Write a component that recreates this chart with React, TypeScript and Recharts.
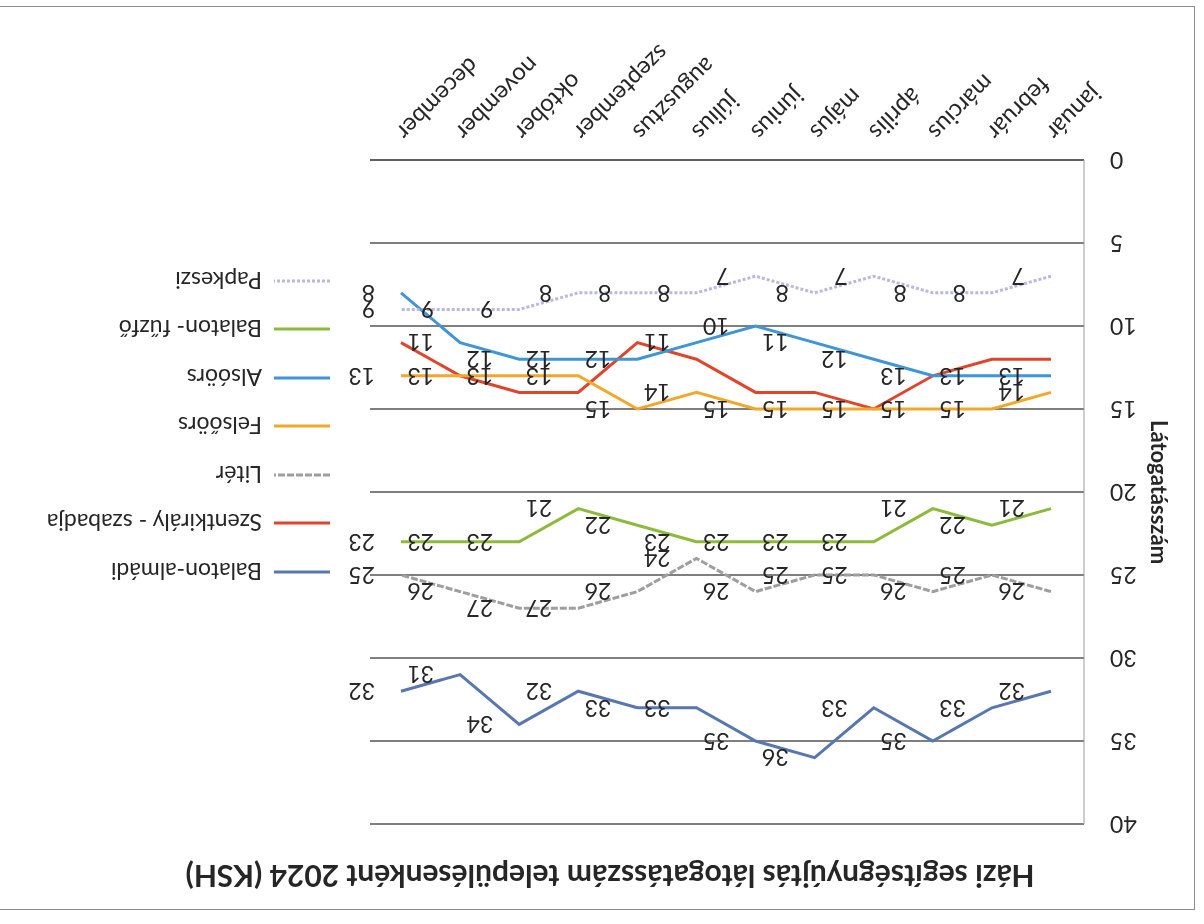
import { CartesianGrid, LabelList, Legend, Line, LineChart, XAxis, YAxis } from "recharts";

const months = ["január", "február", "március", "április", "május", "június", "július", "augusztus", "szeptember", "október", "november", "december"];

const balatonAlmadi = [32, 33, 35, 33, 36, 35, 33, 33, 32, 34, 31, 32];
const szentkiraly = [12, 12, 13, 15, 14, 14, 12, 11, 14, 14, 13, 11];
const liter = [26, 25, 26, 25, 25, 26, 24, 26, 27, 27, 26, 25];
const felsoors = [14, 15, 15, 15, 15, 15, 14, 15, 13, 13, 13, 13];
const alsoors = [13, 13, 13, 12, 11, 10, 11, 12, 12, 12, 11, 8];
const balatonFuzfo = [21, 22, 21, 23, 23, 23, 23, 22, 21, 23, 23, 23];
const papkeszi = [7, 8, 8, 7, 8, 7, 8, 8, 8, 9, 9, 9];

const yTicks = [0, 5, 10, 15, 20, 25, 30, 35, 40];

const TITLE = "Házi segítségnyújtás látogatásszám településenként 2024 (KSH)";
const FONT = "Lato, 'Open Sans', sans-serif";
const INK = "#262626";

// legend order (top to bottom)
const series = [
  { key: "almadi", name: "Balaton-almádi", color: "#5876B0", dash: undefined, labels: true },
  { key: "szentkiraly", name: "Szentkirály - szabadja", color: "#E0452B", dash: undefined, labels: false },
  { key: "liter", name: "Litér", color: "#9E9E9E", dash: "7 2", labels: true },
  { key: "felsoors", name: "Felsőörs", color: "#F2A72B", dash: undefined, labels: true },
  { key: "alsoors", name: "Alsóörs", color: "#3F95D6", dash: undefined, labels: true },
  { key: "fuzfo", name: "Balaton- fűzfő", color: "#8DBA3A", dash: undefined, labels: true },
  { key: "papkeszi", name: "Papkeszi", color: "#B9B9DD", dash: "3 2", labels: true },
];

const data = months.map((m, i) => ({
  month: m,
  almadi: balatonAlmadi[i],
  szentkiraly: szentkiraly[i],
  liter: liter[i],
  felsoors: felsoors[i],
  alsoors: alsoors[i],
  fuzfo: balatonFuzfo[i],
  papkeszi: papkeszi[i],
}));

function MonthTick({ x, y, payload }: any) {
  const tx = x + 6;
  const ty = y + 30;
  return (
    <text x={tx} y={ty} transform={`rotate(-45 ${tx} ${ty})`} textAnchor="end" fontSize={24} fontFamily={FONT} fill={INK}>
      {payload.value}
    </text>
  );
}

function AxisTitle(props: any) {
  const vb = props.viewBox || {};
  const cx = 44;
  const cy = vb.y != null ? vb.y + vb.height / 2 : 432;
  return (
    <text x={cx} y={cy} transform={`rotate(-90 ${cx} ${cy})`} textAnchor="middle" dominantBaseline="central" fontSize={22} fontWeight={700} fontFamily={FONT} fill={INK}>
      Látogatásszám
    </text>
  );
}

function LegendBox() {
  return (
    <div style={{ display: "flex", flexDirection: "column", fontFamily: FONT }}>
      {series.map((s) => (
        <div key={s.key} style={{ display: "flex", alignItems: "center", height: 48.5 }}>
          <svg width={56} height={6}>
            <line x1={0} y1={3} x2={56} y2={3} stroke={s.color} strokeWidth={3} strokeDasharray={s.dash} />
          </svg>
          <span style={{ marginLeft: 12, fontSize: 23, color: INK, whiteSpace: "nowrap" }}>{s.name}</span>
        </div>
      ))}
    </div>
  );
}

export default function App() {
  return (
    <div style={{ position: "fixed", left: 0, top: 0, width: 1204, height: 924, background: "#fff", transform: "rotate(180deg)", fontFamily: FONT, overflow: "hidden" }}>
      <div style={{ position: "absolute", left: 9, top: 14, width: 1210, height: 902, border: "1px solid #8a8a8a" }} />
      <div style={{ position: "absolute", left: 0, top: 0 }}>
        <LineChart width={1204} height={924} data={data} margin={{ top: 100, right: 370, bottom: 0, left: 0 }}>
          <CartesianGrid vertical={false} stroke="#555" strokeWidth={1.5} />
          <XAxis
            dataKey="month"
            height={160}
            interval={0}
            padding={{ left: 33, right: 31 }}
            tickLine={false}
            tickSize={0}
            tickMargin={0}
            axisLine={{ stroke: "#555", strokeWidth: 1.5 }}
            tick={<MonthTick />}
          />
          <YAxis
            width={120}
            domain={[0, 40]}
            ticks={yTicks}
            tickLine={false}
            tickSize={0}
            tickMargin={26}
            axisLine={{ stroke: "#9a9a9a" }}
            tick={{ fontSize: 23, fill: INK, fontFamily: FONT }}
            label={AxisTitle}
          />
          <Legend layout="vertical" align="center" verticalAlign="middle" content={<LegendBox />} wrapperStyle={{ left: 874, top: 328, width: 330 }} />
          {series.map((s) => (
            <Line key={s.key} type="linear" dataKey={s.key} name={s.name} stroke={s.color} strokeWidth={3} strokeDasharray={s.dash} dot={false} isAnimationActive={false}>
              {s.labels && <LabelList dataKey={s.key} position="right" offset={26} fontSize={23} fill={INK} fontFamily={FONT} />}
            </Line>
          ))}
        </LineChart>
      </div>
      <div style={{ position: "absolute", left: 0, top: 30, width: 1188, textAlign: "center", fontSize: 30, fontWeight: 700, lineHeight: "34px", color: INK }}>
        {TITLE}
      </div>
    </div>
  );
}
